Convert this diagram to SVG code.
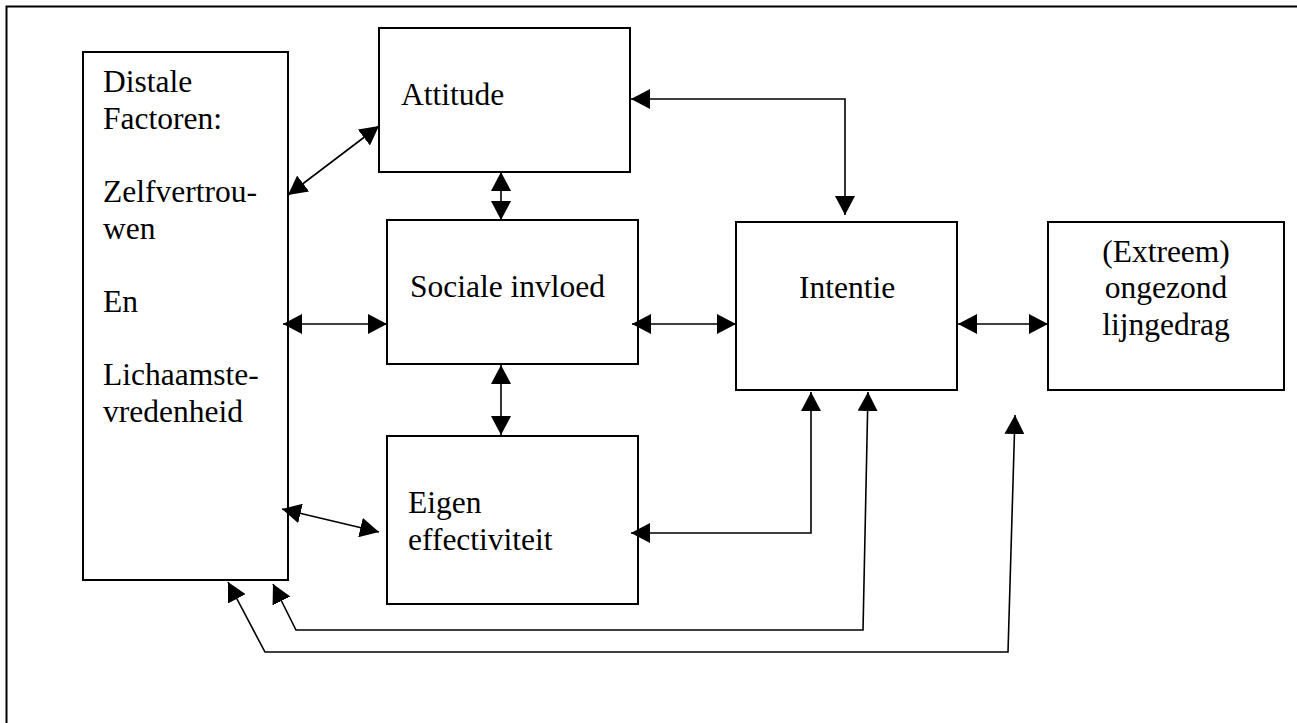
<svg xmlns="http://www.w3.org/2000/svg" width="1297" height="723" viewBox="0 0 1297 723">
  <style>
    .box { fill: #fff; stroke: #000; stroke-width: 2; }
    .frame { fill: #fff; stroke: #000; stroke-width: 2; }
    text { font-family: 'Liberation Serif', 'DejaVu Serif', serif; font-size: 31.5px; fill: #000; }
    .mid { text-anchor: middle; }
    .conn { fill: none; stroke: #000; stroke-width: 1.6; marker-start: url(#ah); marker-end: url(#ah); }
  </style>
  <defs>
    <marker id="ah" viewBox="0 0 19 20" refX="19" refY="10" markerWidth="19" markerHeight="20" markerUnits="userSpaceOnUse" orient="auto-start-reverse">
      <path d="M0,0 L19,10 L0,20 Z" fill="#000"/>
    </marker>
  </defs>
  <rect x="0" y="0" width="1297" height="723" fill="#fff"/>
  <rect class="frame" x="6.5" y="6.5" width="1310" height="740"/>

  <g id="distale" font-family="Liberation Serif, serif">
    <rect class="box" x="83" y="52" width="205" height="528"/>
    <text x="103" y="92" font-family="Liberation Serif, serif">Distale</text>
    <text x="103" y="129" font-family="Liberation Serif, serif">Factoren:</text>
    <text x="103" y="202" font-family="Liberation Serif, serif">Zelfvertrou-</text>
    <text x="103" y="239" font-family="Liberation Serif, serif">wen</text>
    <text x="103" y="312" font-family="Liberation Serif, serif">En</text>
    <text x="103" y="385" font-family="Liberation Serif, serif">Lichaamste-</text>
    <text x="103" y="422" font-family="Liberation Serif, serif">vredenheid</text>
  </g>

  <g id="attitude">
    <rect class="box" x="379" y="28" width="251" height="144"/>
    <text x="401" y="105" font-family="Liberation Serif, serif">Attitude</text>
  </g>

  <g id="sociale">
    <rect class="box" x="387" y="220" width="251" height="144"/>
    <text x="410" y="297" font-family="Liberation Serif, serif">Sociale invloed</text>
  </g>

  <g id="eigen">
    <rect class="box" x="387" y="436" width="251" height="168"/>
    <text x="408" y="513" font-family="Liberation Serif, serif">Eigen</text>
    <text x="408" y="550" font-family="Liberation Serif, serif">effectiviteit</text>
  </g>

  <g id="intentie">
    <rect class="box" x="736" y="222" width="221" height="168"/>
    <text x="799" y="298" font-family="Liberation Serif, serif">Intentie</text>
  </g>

  <g id="gedrag">
    <rect class="box" x="1048" y="222" width="236" height="168"/>
    <text class="mid" x="1166" y="262" font-family="Liberation Serif, serif">(Extreem)</text>
    <text class="mid" x="1166" y="298" font-family="Liberation Serif, serif">ongezond</text>
    <text class="mid" x="1166" y="335" font-family="Liberation Serif, serif">lijngedrag</text>
  </g>

  <g id="connectors">
    <path class="conn" d="M288,195 L379,126"/>
    <path class="conn" d="M501,172 L501,220"/>
    <path class="conn" d="M283,324 L387,324"/>
    <path class="conn" d="M632,324 L736,324"/>
    <path class="conn" d="M501,365 L501,435"/>
    <path class="conn" d="M631,99 L845,99 L845,215"/>
    <path class="conn" d="M958,324 L1048,324"/>
    <path class="conn" d="M282,509 L379,532"/>
    <path class="conn" d="M631,533 L811,533 L811,392"/>
    <path class="conn" d="M868,392 L863,630 L296,630 L273,584"/>
    <path class="conn" d="M1015,415 L1008,652 L265,652 L228,582"/>
  </g>
</svg>
